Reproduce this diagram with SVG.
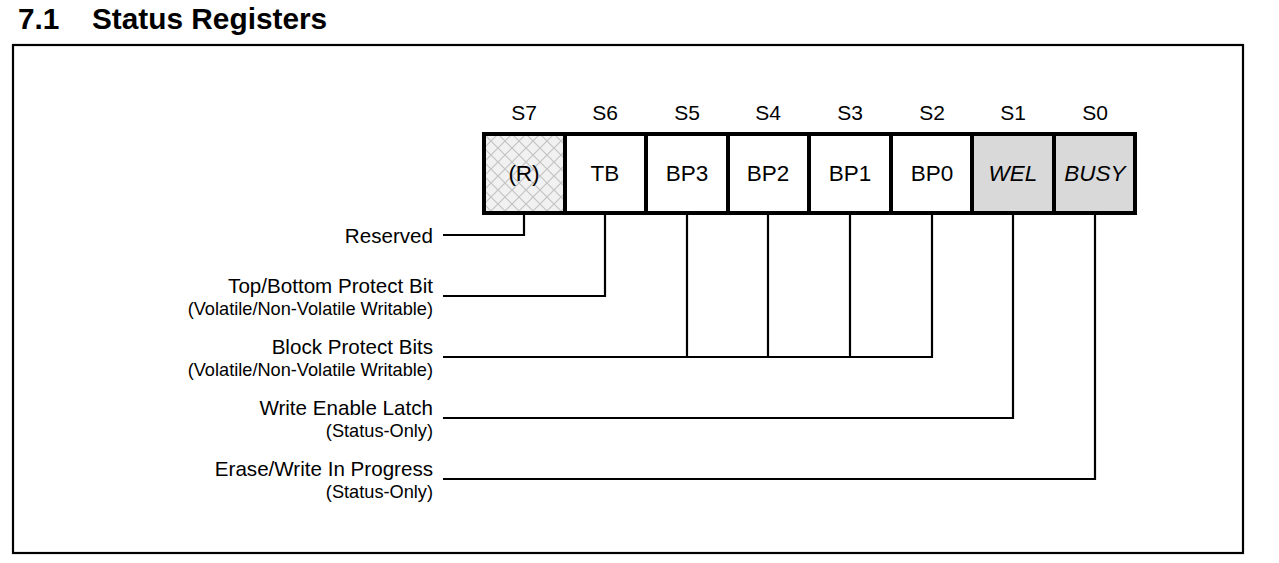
<svg xmlns="http://www.w3.org/2000/svg" width="1279" height="563" viewBox="0 0 1279 563">
<style>
text{font-family:"Liberation Sans",Arial,sans-serif;fill:#000}
.h{font-size:29.8px;font-weight:bold}
.bit{font-size:21px;text-anchor:middle}
.cell{font-size:22.5px;text-anchor:middle}
.it{font-style:italic}
.lbl{font-size:20.6px;text-anchor:end}
.sub{font-size:18.2px;text-anchor:end}
.c{fill:none;stroke:#000;stroke-width:2.2}
.box{stroke:#000;stroke-width:4}
</style>
<defs>
<pattern id="hatch" width="14" height="14" patternUnits="userSpaceOnUse" x="484" y="134">
<rect width="14" height="14" fill="#f1f1f1"/>
<path d="M0,0L14,14M14,0L0,14" stroke="#c4c4c4" stroke-width="1.2"/>
</pattern>
</defs>
<rect width="1279" height="563" fill="#fff"/>
<text class="h" x="18" y="29">7.1</text>
<text class="h" x="92" y="29">Status Registers</text>
<rect x="13" y="45" width="1230" height="508" fill="none" stroke="#000" stroke-width="2.2"/>
<g id="bits">
<text class="bit" x="524" y="120">S7</text>
<text class="bit" x="605" y="120">S6</text>
<text class="bit" x="687" y="120">S5</text>
<text class="bit" x="768" y="120">S4</text>
<text class="bit" x="850" y="120">S3</text>
<text class="bit" x="932" y="120">S2</text>
<text class="bit" x="1013" y="120">S1</text>
<text class="bit" x="1095" y="120">S0</text>
</g>
<g id="cell-S7"><rect class="box" x="484" y="134" width="81" height="79" fill="url(#hatch)"/><text class="cell" x="524" y="181">(R)</text></g>
<g id="cell-S6"><rect class="box" x="565" y="134" width="81" height="79" fill="#fff"/><text class="cell" x="605" y="181">TB</text></g>
<g id="cell-S5"><rect class="box" x="646" y="134" width="82" height="79" fill="#fff"/><text class="cell" x="687" y="181">BP3</text></g>
<g id="cell-S4"><rect class="box" x="728" y="134" width="81" height="79" fill="#fff"/><text class="cell" x="768" y="181">BP2</text></g>
<g id="cell-S3"><rect class="box" x="809" y="134" width="82" height="79" fill="#fff"/><text class="cell" x="850" y="181">BP1</text></g>
<g id="cell-S2"><rect class="box" x="891" y="134" width="81" height="79" fill="#fff"/><text class="cell" x="932" y="181">BP0</text></g>
<g id="cell-S1"><rect class="box" x="972" y="134" width="82" height="79" fill="#d9d9d9"/><text class="cell it" x="1013" y="181">WEL</text></g>
<g id="cell-S0"><rect class="box" x="1054" y="134" width="81" height="79" fill="#d9d9d9"/><text class="cell it" x="1095" y="181">BUSY</text></g>
<g id="connectors">
<path class="c" d="M443,235H524V215"/>
<path class="c" d="M443,296H605V215"/>
<path class="c" d="M443,357H932V215M687,357V215M768,357V215M850,357V215"/>
<path class="c" d="M443,418H1013V215"/>
<path class="c" d="M443,479H1095V215"/>
</g>
<g id="labels">
<text class="lbl" x="433" y="243">Reserved</text>
<text class="lbl" x="433" y="293">Top/Bottom Protect Bit</text>
<text class="sub" x="433" y="315">(Volatile/Non-Volatile Writable)</text>
<text class="lbl" x="433" y="354">Block Protect Bits</text>
<text class="sub" x="433" y="376">(Volatile/Non-Volatile Writable)</text>
<text class="lbl" x="433" y="415">Write Enable Latch</text>
<text class="sub" x="433" y="437">(Status-Only)</text>
<text class="lbl" x="433" y="476">Erase/Write In Progress</text>
<text class="sub" x="433" y="498">(Status-Only)</text>
</g>
</svg>
